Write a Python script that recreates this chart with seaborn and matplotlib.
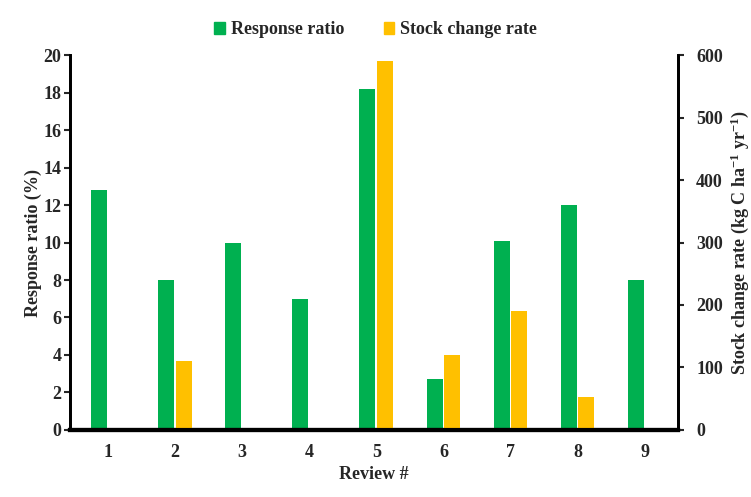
import numpy as np
import pandas as pd
import seaborn as sns
import matplotlib.pyplot as plt
from matplotlib.patches import Patch

reviews = ['1', '2', '3', '4', '5', '6', '7', '8', '9']
response_ratio = [12.8, 8.0, 10.0, 7.0, 18.2, 2.7, 10.1, 12.0, 8.0]   # %
stock_change = [0, 110, 0, 0, 590, 120, 190, 53, 0]                 # kg C ha-1 yr-1

green = '#00B050'
orange = '#FFC000'
series = ['Response ratio', 'Stock change rate']

sns.set_style('white')
plt.rcParams['font.family'] = ['Liberation Serif', 'DejaVu Serif']
plt.rcParams['font.weight'] = 'bold'
plt.rcParams['mathtext.default'] = 'regular'

# long table, each axis only gets its own series (other one NaN) so dodge keeps both slots
rr = pd.DataFrame({'Review': reviews, 'Series': series[0], 'value': response_ratio})
sc = pd.DataFrame({'Review': reviews, 'Series': series[1], 'value': stock_change})
df1 = pd.concat([rr, sc.assign(value=np.nan)], ignore_index=True)
df2 = pd.concat([rr.assign(value=np.nan), sc], ignore_index=True)

fig, ax = plt.subplots(figsize=(7.51, 4.97), dpi=100)
ax2 = ax.twinx()

pal = {series[0]: green, series[1]: orange}
sns.barplot(data=df1, x='Review', y='value', hue='Series', hue_order=series, order=reviews,
            palette=pal, width=0.53, gap=0.1, saturation=1, errorbar=None, legend=False,
            linewidth=0, ax=ax)
sns.barplot(data=df2, x='Review', y='value', hue='Series', hue_order=series, order=reviews,
            palette=pal, width=0.53, gap=0.1, saturation=1, errorbar=None, legend=False,
            linewidth=0, ax=ax2)

ax.set_xlim(-0.57, 8.5)
ax.set_ylim(0, 20)
ax.set_yticks(range(0, 21, 2))
ax2.set_ylim(0, 600)
ax2.set_yticks(range(0, 601, 100))

fs = 13
ax.set_xlabel('Review #', fontsize=fs, fontweight='bold', labelpad=4)
ax.set_ylabel('Response ratio (%)', fontsize=fs, fontweight='bold', labelpad=1)
ax2.set_ylabel('Stock change rate (kg C ha$^{-1}$ yr$^{-1}$)', fontsize=fs, fontweight='bold', labelpad=4)

for a in (ax, ax2):
    a.tick_params(labelsize=fs)
    for lab in a.get_xticklabels() + a.get_yticklabels():
        lab.set_fontweight('bold')
    for s in a.spines.values():
        s.set_color('black')
        s.set_linewidth(2)
    a.spines['top'].set_visible(False)
    a.spines['left'].set_visible(True)
    a.spines['right'].set_visible(True)
    a.spines['bottom'].set_linewidth(3)
ax.tick_params(axis='x', length=0, pad=10)
ax.tick_params(axis='y', direction='out', length=4, width=1.5, left=True, pad=2)
ax2.tick_params(axis='y', direction='out', length=4, width=1.5, right=True, pad=9)

handles = [Patch(color=green, label=series[0]), Patch(color=orange, label=series[1])]
fig.legend(handles=handles, loc='upper center', bbox_to_anchor=(0.5, 0.99), ncol=2,
           frameon=False, handlelength=0.6, handleheight=0.6, columnspacing=2.2,
           handletextpad=0.3, prop={'size': fs, 'weight': 'bold'})

fig.subplots_adjust(left=0.093, right=0.903, bottom=0.135, top=0.889)
fig.savefig('out.png', dpi=100)
